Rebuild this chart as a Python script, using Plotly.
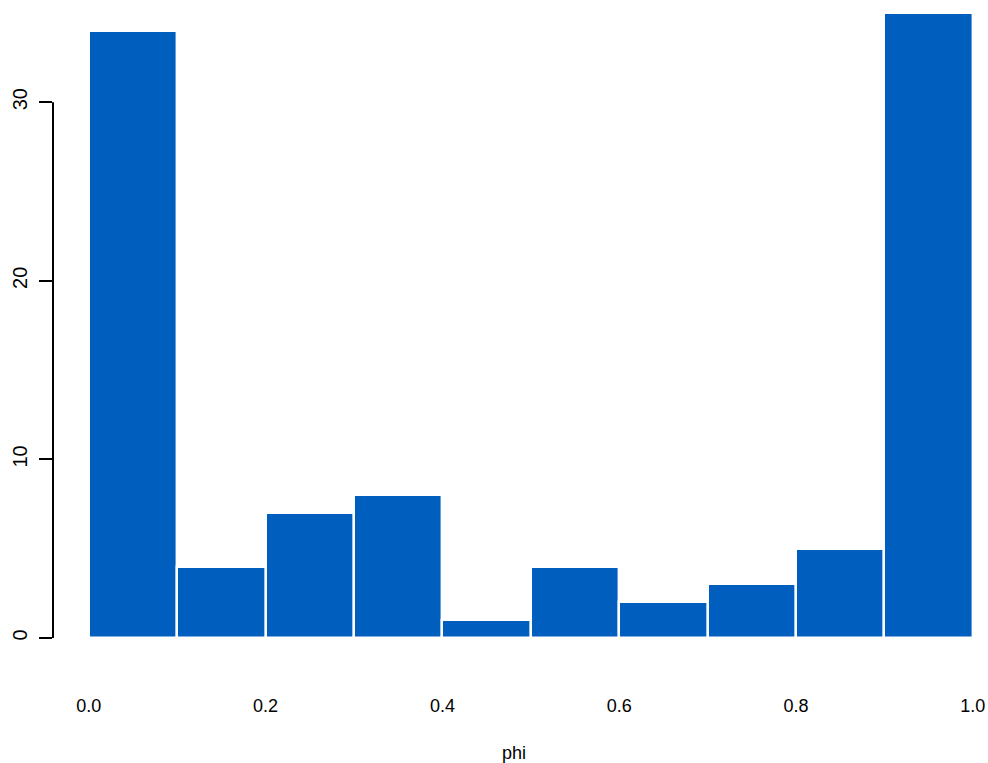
import plotly.graph_objects as go

# Histogram of phi: bin edges and counts per bin
bin_edges = [0.0, 0.1, 0.2, 0.3, 0.4, 0.5, 0.6, 0.7, 0.8, 0.9, 1.0]
counts = [34, 4, 7, 8, 1, 4, 2, 3, 5, 35]
x_ticks = [0.0, 0.2, 0.4, 0.6, 0.8, 1.0]
x_tick_labels = ["0.0", "0.2", "0.4", "0.6", "0.8", "1.0"]
y_ticks = [0, 10, 20, 30]
y_tick_labels = ["0", "10", "20", "30"]

centers = [(a + b) / 2 for a, b in zip(bin_edges[:-1], bin_edges[1:])]
widths = [b - a for a, b in zip(bin_edges[:-1], bin_edges[1:])]

BAR_COLOR = "#005EBE"
FONT = "Liberation Sans, Arial, sans-serif"

fig = go.Figure()
fig.add_trace(go.Bar(
    x=centers,
    y=counts,
    width=widths,
    marker=dict(color=BAR_COLOR, line=dict(color="white", width=2.4)),
    hoverinfo="x+y",
))

# y axis line spans only the labelled tick range, R-style
fig.add_shape(type="line", xref="paper", yref="y",
              x0=0, x1=0, y0=min(y_ticks), y1=max(y_ticks),
              line=dict(color="black", width=2))

fig.update_layout(
    width=988, height=763,
    margin=dict(l=53, r=13, t=4, b=125),
    paper_bgcolor="white", plot_bgcolor="white",
    bargap=0,
    showlegend=False,
    font=dict(family=FONT, color="black"),
    xaxis=dict(
        range=[-0.0405, 1.0025],
        tickvals=x_ticks, ticktext=x_tick_labels,
        showgrid=False, zeroline=False, showline=False, ticks="",
        ticklabelstandoff=55,
        automargin=False,
        tickfont=dict(size=18, family=FONT, color="black"),
        title=dict(text="phi", font=dict(size=18, family=FONT, color="black"), standoff=35),
    ),
    yaxis=dict(
        range=[0, 35.5],
        tickvals=y_ticks, ticktext=y_tick_labels,
        showgrid=False, zeroline=False, showline=False,
        ticks="outside", ticklen=13, tickwidth=2, tickcolor="black",
        tickangle=-90,
        ticklabelstandoff=4,
        automargin=False,
        tickfont=dict(size=20, family=FONT, color="black"),
    ),
)

fig.write_html("out.html")
